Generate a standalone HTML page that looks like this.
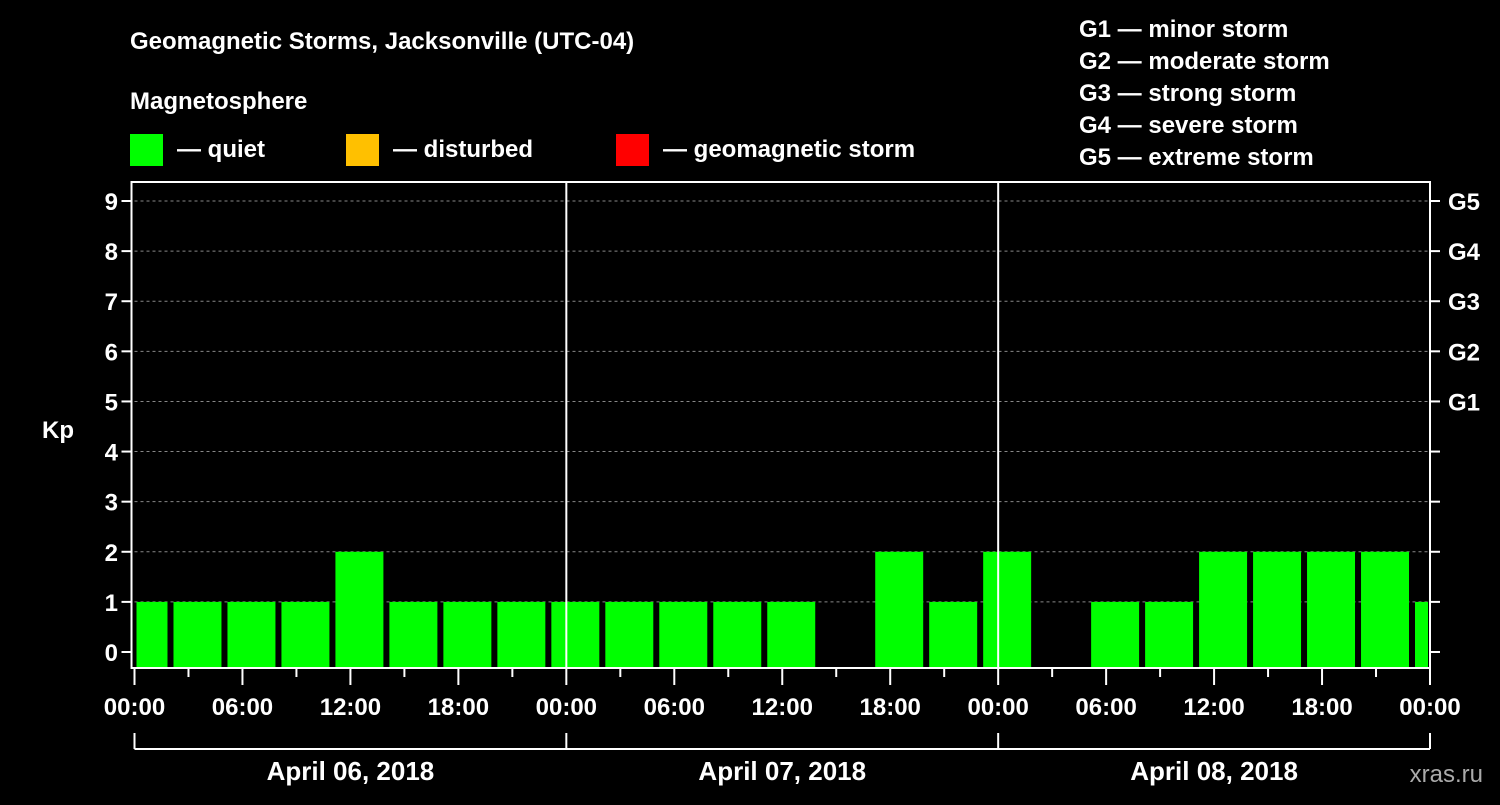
<!DOCTYPE html>
<html><head><meta charset="utf-8"><style>
body{margin:0;background:#000;width:1500px;height:800px;overflow:hidden}
svg text{font-family:"Liberation Sans",Arial,sans-serif;font-weight:bold;fill:#fff}
</style></head><body>
<svg id="c" width="1500" height="800" xmlns="http://www.w3.org/2000/svg">
<text x="130" y="49" font-size="24">Geomagnetic Storms, Jacksonville (UTC-04)</text>
<text x="130" y="109" font-size="24">Magnetosphere</text>
<rect x="130" y="134" width="33" height="32" fill="#00ff00"/>
<text x="177" y="157" font-size="24">— quiet</text>
<rect x="346" y="134" width="33" height="32" fill="#ffc000"/>
<text x="393" y="157" font-size="24">— disturbed</text>
<rect x="616" y="134" width="33" height="32" fill="#ff0000"/>
<text x="663" y="157" font-size="24">— geomagnetic storm</text>
<g font-size="24">
<text x="1079" y="37">G1 — minor storm</text>
<text x="1079" y="69">G2 — moderate storm</text>
<text x="1079" y="101">G3 — strong storm</text>
<text x="1079" y="133">G4 — severe storm</text>
<text x="1079" y="165">G5 — extreme storm</text>
</g>
<text x="42" y="438" font-size="24">Kp</text>
<text x="1483" y="782" font-size="24" text-anchor="end" fill="#aaa" style="fill:#aaa;font-weight:normal">xras.ru</text>
<g id="plot"></g>
</svg>
<script>
const kpValues=[1,1,1,1,2,1,1,1,1,1,1,1,1,0,2,1,2,0,1,1,2,2,2,2,1];
const yTicks=[0,1,2,3,4,5,6,7,8,9];
const gLabels=["G1","G2","G3","G4","G5"];
const xLabels=["00:00","06:00","12:00","18:00","00:00","06:00","12:00","18:00","00:00","06:00","12:00","18:00","00:00"];
const dateLabels=["April 06, 2018","April 07, 2018","April 08, 2018"];
const X0=134.5,X1=1430,PT=182,PB=668,Y0=652,Y9=201;
const hx=h=>X0+(X1-X0)*h/72;
const ky=v=>Y0-(Y0-Y9)*v/9;
const NS="http://www.w3.org/2000/svg";
const g=document.getElementById('plot');
function mk(t,a,txt){const e=document.createElementNS(NS,t);for(const k in a)e.setAttribute(k,a[k]);if(txt!==undefined)e.textContent=txt;g.appendChild(e);return e;}
yTicks.forEach(v=>{if(v>0){const l=mk('line',{x1:X0,x2:X1,y1:ky(v),y2:ky(v),stroke:'#888','stroke-dasharray':'3,3','stroke-width':1});

}});
kpValues.forEach((v,i)=>{if(v<=0)return;let s=-1+3*i,e=s+3;let a=Math.max(hx(s)+3,X0+2),b=Math.min(hx(e)-3,X1-2);
const r=mk('rect',{x:a,y:ky(v),width:b-a,height:PB-ky(v),fill:'#00ff00'});

});
[24,48].forEach(h=>{const l=mk('line',{x1:hx(h),x2:hx(h),y1:PT,y2:PB,stroke:'#fff','stroke-width':2});

});
const fr=mk('path',{d:`M${X0-3},${PT} V${PB} H${X1} V${PT} Z`,fill:'none',stroke:'#fff','stroke-width':2});


yTicks.forEach(v=>{const y=ky(v);mk('line',{x1:X0-13,x2:X0-3,y1:y,y2:y,stroke:'#fff','stroke-width':2});mk('line',{x1:X1,x2:X1+10,y1:y,y2:y,stroke:'#fff','stroke-width':2});
const t=mk('text',{x:118,y:y+9,'font-size':24,'text-anchor':'end'},String(v));

});
gLabels.forEach((s,i)=>{const t=mk('text',{x:1448,y:ky(5+i)+9,'font-size':24},s);

});
for(let h=0;h<=72;h+=3){const big=h%6===0;mk('line',{x1:hx(h),x2:hx(h),y1:PB,y2:PB+(big?17:9),stroke:'#fff','stroke-width':2});}
xLabels.forEach((s,i)=>{const t=mk('text',{x:hx(i*6),y:715,'font-size':24,'text-anchor':'middle'},s);

});
mk('line',{x1:X0,x2:X1,y1:749,y2:749,stroke:'#fff','stroke-width':2});
[0,24,48,72].forEach(h=>mk('line',{x1:hx(h),x2:hx(h),y1:733,y2:749,stroke:'#fff','stroke-width':2}));
dateLabels.forEach((s,i)=>{const t=mk('text',{x:hx(i*24+12),y:780,'font-size':26,'text-anchor':'middle'},s);

});
</script>
</body></html>
